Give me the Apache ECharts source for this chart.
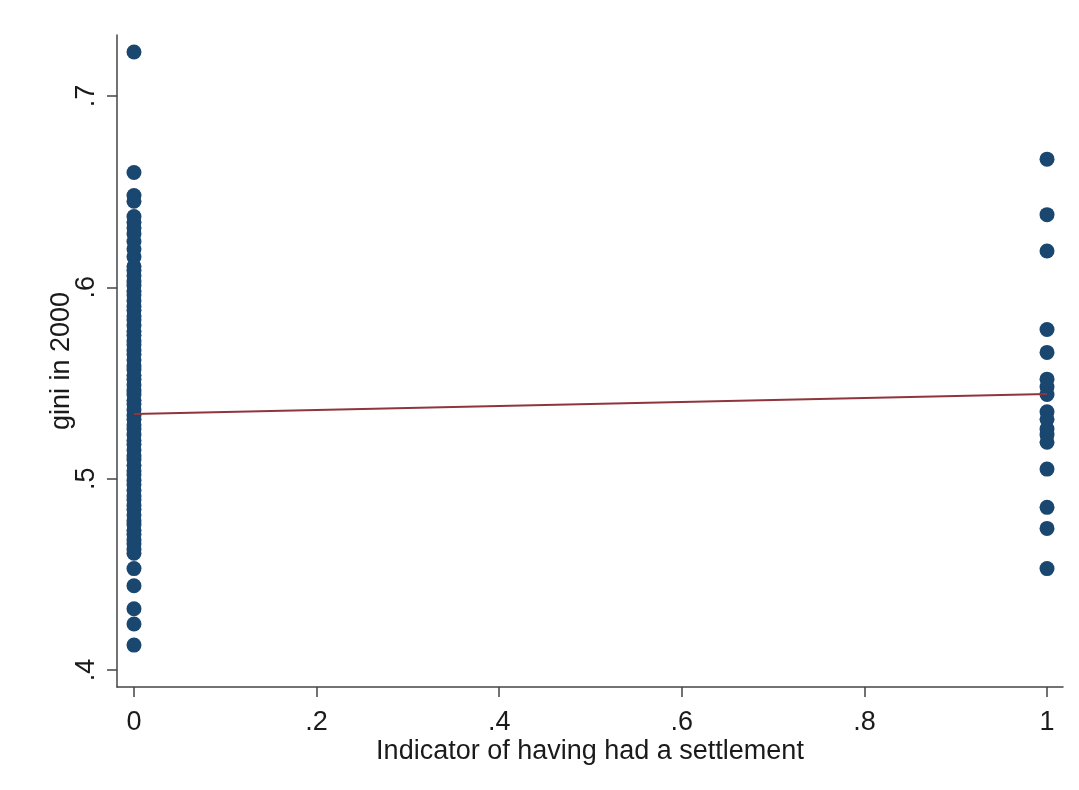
<!DOCTYPE html>
<html>
<head>
<meta charset="utf-8">
<script src="https://cdn.jsdelivr.net/npm/echarts@6/dist/echarts.min.js"></script>
<style>
html,body{margin:0;padding:0;background:#fff;}
#chart{width:1079px;height:790px;}
</style>
</head>
<body>
<div id="chart"></div>
<script>
// Gini in 2000 for units without a settlement (indicator = 0)
const giniNoSettlement = [
  0.723, 0.660, 0.648, 0.645, 0.637, 0.634, 0.631, 0.628, 0.624, 0.620,
  0.616, 0.611, 0.609, 0.606, 0.603, 0.601, 0.598, 0.596, 0.593, 0.590,
  0.588, 0.585, 0.583, 0.580, 0.577, 0.575, 0.572, 0.570, 0.567, 0.565,
  0.562, 0.559, 0.557, 0.554, 0.552, 0.549, 0.546, 0.544, 0.541, 0.539,
  0.536, 0.533, 0.531, 0.528, 0.526, 0.523, 0.520, 0.518, 0.515, 0.512,
  0.510, 0.507, 0.504, 0.502, 0.499, 0.497, 0.494, 0.491, 0.489, 0.486,
  0.484, 0.481, 0.478, 0.476, 0.473, 0.471, 0.468, 0.466, 0.463, 0.461,
  0.453, 0.444, 0.432, 0.424, 0.413
];
// Gini in 2000 for units with a settlement (indicator = 1)
const giniSettlement = [
  0.667, 0.638, 0.619, 0.578, 0.566, 0.552, 0.548, 0.544, 0.535, 0.531,
  0.526, 0.523, 0.519, 0.505, 0.485, 0.474, 0.453
];
// Fitted line endpoints
const fitX = [0, 1];
const fitY = [0.5338, 0.5443];
// Tick labels
const xTicks = [0, 0.2, 0.4, 0.6, 0.8, 1];
const yTicks = [0.4, 0.5, 0.6, 0.7];

function stataLabel(v) {
  const r = Math.round(v * 10) / 10;
  if (r === 0) return '0';
  if (r === 1) return '1';
  return '.' + String(Math.round(r * 10));
}

const scatterData = [];
giniNoSettlement.forEach(v => scatterData.push([0, v]));
giniSettlement.forEach(v => scatterData.push([1, v]));
const fitData = fitX.map((x, i) => [x, fitY[i]]);

const FONT = 'Liberation Sans';
const FS = 27;
const TXT = '#1a1a1a';
const axisColor = '#444';

const chart = echarts.init(document.getElementById('chart'), null, {renderer: 'canvas'});
chart.setOption({
  backgroundColor: '#ffffff',
  animation: false,
  grid: {left: 117, right: 16, top: 35, bottom: 103, containLabel: false},
  xAxis: {
    type: 'value',
    min: -0.0186,
    max: 1.0175,
    name: 'Indicator of having had a settlement',
    nameLocation: 'middle',
    nameGap: 51,
    nameMoveOverlap: false,
    nameTextStyle: {fontFamily: FONT, fontSize: FS, color: TXT},
    axisLine: {show: true, onZero: false, lineStyle: {color: axisColor, width: 1.5}},
    axisTick: {show: true, length: 10, inside: false, customValues: xTicks, lineStyle: {color: axisColor, width: 1.5}},
    axisLabel: {customValues: xTicks, margin: 22, fontFamily: FONT, fontSize: FS, color: TXT, formatter: stataLabel},
    splitLine: {show: false}
  },
  yAxis: {
    type: 'value',
    min: 0.3911,
    max: 0.7319,
    name: 'gini in 2000',
    nameLocation: 'middle',
    nameGap: 42,
    nameMoveOverlap: false,
    nameRotate: 90,
    nameTextStyle: {fontFamily: FONT, fontSize: FS, color: TXT},
    axisLine: {show: true, onZero: false, lineStyle: {color: axisColor, width: 1.5}},
    axisTick: {show: true, length: 10, inside: false, customValues: yTicks, lineStyle: {color: axisColor, width: 1.5}},
    axisLabel: {customValues: yTicks, rotate: 90, margin: 17, fontFamily: FONT, fontSize: FS, color: TXT, formatter: stataLabel},
    splitLine: {show: false}
  },
  series: [
    {
      type: 'scatter',
      data: scatterData,
      symbol: 'circle',
      symbolSize: 15,
      itemStyle: {color: '#1a476f', opacity: 1},
      emphasis: {disabled: true},
      z: 2
    },
    {
      type: 'line',
      data: fitData,
      showSymbol: false,
      symbol: 'none',
      lineStyle: {color: '#90353b', width: 2},
      emphasis: {disabled: true},
      z: 3
    }
  ]
});
</script>
</body>
</html>
